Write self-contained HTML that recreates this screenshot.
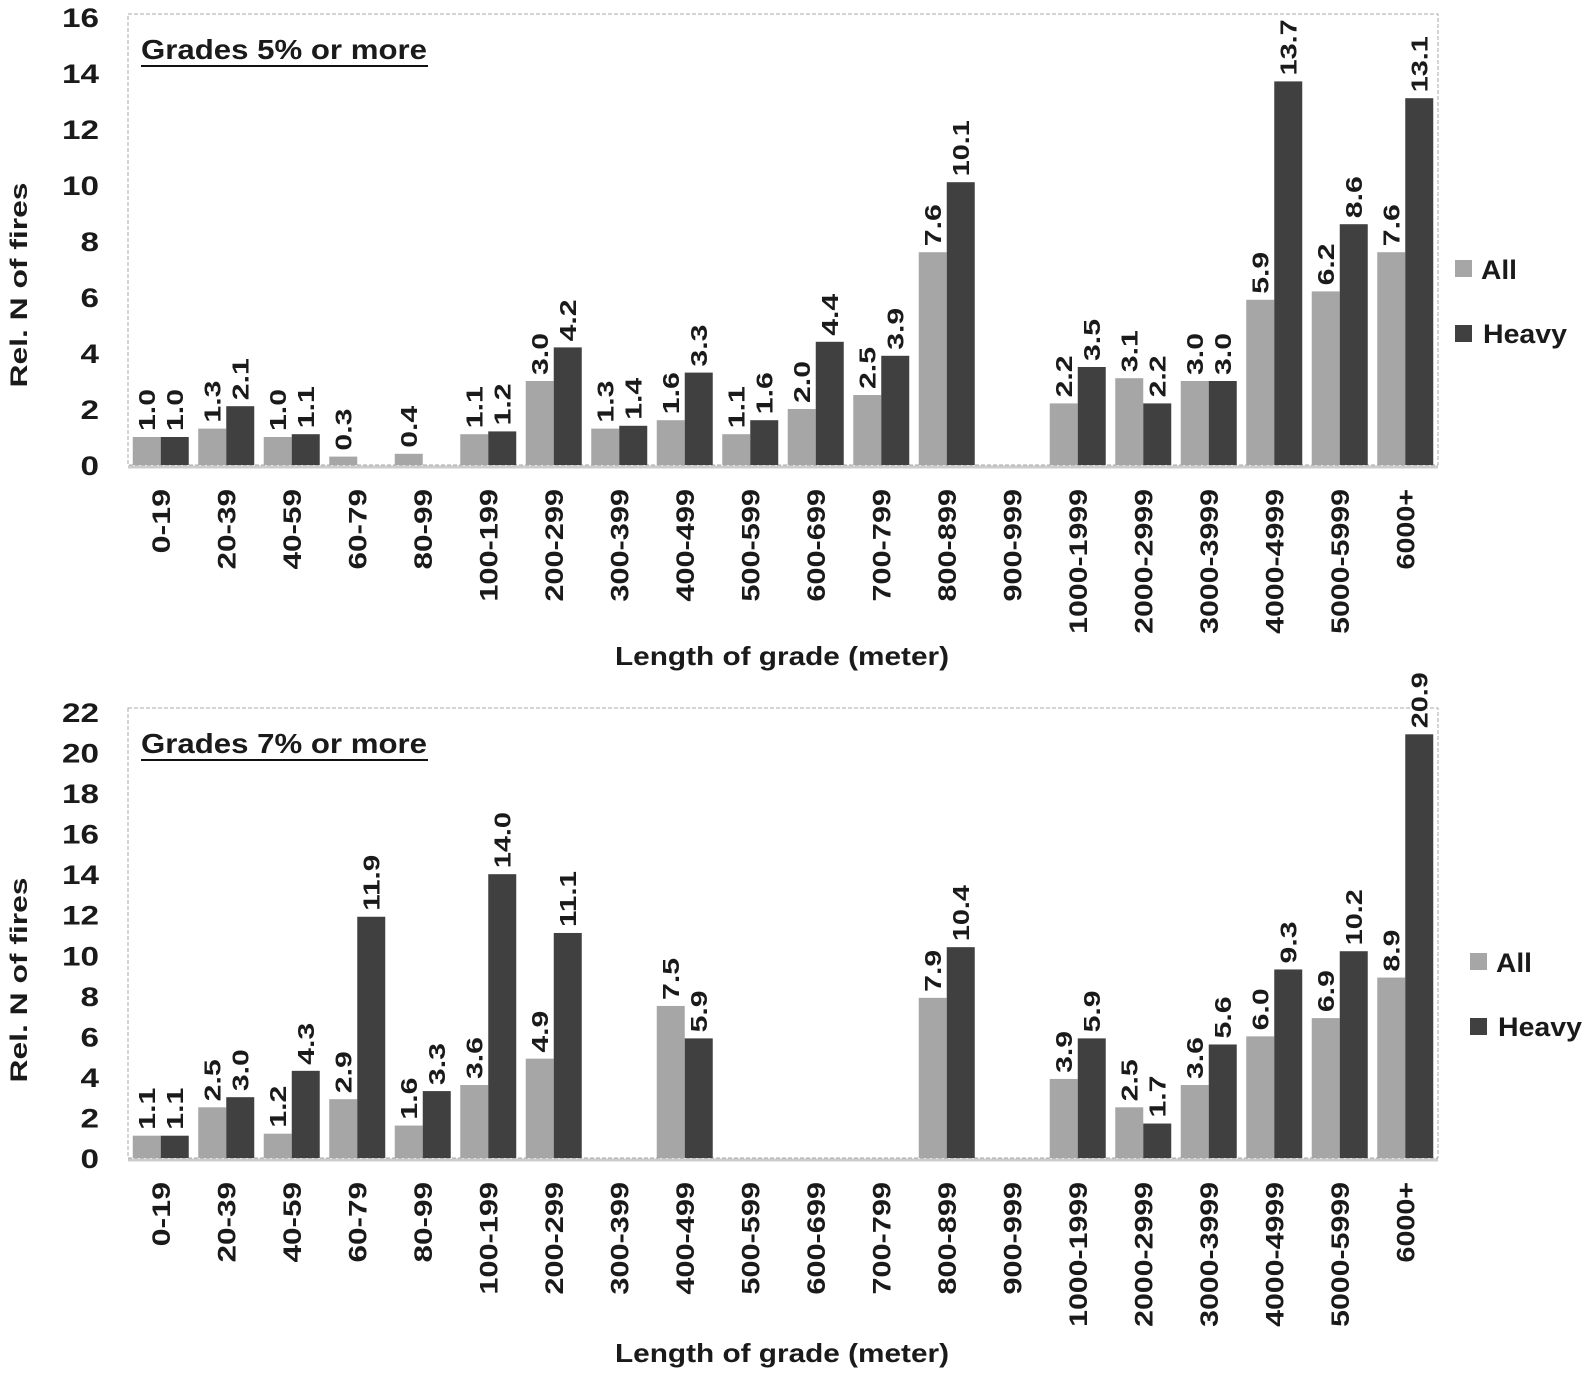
<!DOCTYPE html>
<html><head><meta charset="utf-8"><style>
body{margin:0;background:#fff;}
svg text{font-family:"Liberation Sans",sans-serif;font-weight:bold;fill:#1a1a1a;}
</style></head><body>
<svg id="c" width="1588" height="1369" xmlns="http://www.w3.org/2000/svg"></svg>
<script>
const categories=["0-19","20-39","40-59","60-79","80-99","100-199","200-299","300-399","400-499","500-599","600-699","700-799","800-899","900-999","1000-1999","2000-2999","3000-3999","4000-4999","5000-5999","6000+"];
const allTop=[1.0,1.3,1.0,0.3,0.4,1.1,3.0,1.3,1.6,1.1,2.0,2.5,7.6,null,2.2,3.1,3.0,5.9,6.2,7.6];
const heavyTop=[1.0,2.1,1.1,null,null,1.2,4.2,1.4,3.3,1.6,4.4,3.9,10.1,null,3.5,2.2,3.0,13.7,8.6,13.1];
const allBot=[1.1,2.5,1.2,2.9,1.6,3.6,4.9,null,7.5,null,null,null,7.9,null,3.9,2.5,3.6,6.0,6.9,8.9];
const heavyBot=[1.1,3.0,4.3,11.9,3.3,14.0,11.1,null,5.9,null,null,null,10.4,null,5.9,1.7,5.6,9.3,10.2,20.9];
const ticksTop=[0,2,4,6,8,10,12,14,16];
const ticksBot=[0,2,4,6,8,10,12,14,16,18,20,22];
const NS="http://www.w3.org/2000/svg";
const svg=document.getElementById('c');
function mk(t,a,txt,len){const e=document.createElementNS(NS,t);for(const k in a)e.setAttribute(k,a[k]);if(txt!==undefined){e.textContent=txt;}if(len){e.setAttribute('textLength',len);e.setAttribute('lengthAdjust','spacingAndGlyphs');}svg.appendChild(e);return e;}
function chart(o){
  const L=128,R=1438,n=categories.length,band=(R-L)/n;
  const y=v=>o.y0-(v/o.max)*(o.y0-o.yTop);
  const x=i=>L+band*(i+0.5);
  let e=mk('rect',{x:L,y:o.border,width:R-L,height:o.y0-o.border,fill:'none',stroke:'#aaa','stroke-dasharray':'4,2','stroke-width':1});
  
  e=mk('line',{x1:L,x2:R,y1:o.y0+2,y2:o.y0+2,stroke:'#ccc','stroke-width':3});
  
  o.ticks.forEach(t=>{const s=String(t);e=mk('text',{x:99,y:y(t)+10,'text-anchor':'end','font-size':27},s,18.5*s.length);
    });
  categories.forEach((c,i)=>{
    const cx=x(i);
    e=mk('text',{transform:`translate(${cx+9},${o.y0+24}) rotate(-90)`,'text-anchor':'end','font-size':25},c,16.1*c.length);
    
    [[o.a,'#a6a6a6',cx-28,'all'],[o.h,'#404040',cx,'heavy']].forEach(([arr,col,bx,s])=>{
      const v=arr[i];if(v===null)return;
      e=mk('rect',{x:bx,y:y(v),width:28,height:o.y0-y(v),fill:col});
      
      const t=v.toFixed(1);
      e=mk('text',{transform:`translate(${bx+22},${y(v)-6}) rotate(-90)`,'font-size':23},t,14*t.length);
      
    });
  });
  e=mk('text',{x:141,y:o.border+45,'font-size':28},o.title,286);
  
  e=mk('line',{x1:141,x2:428,y1:o.border+52,y2:o.border+52,stroke:'#111','stroke-width':2});
  
  e=mk('text',{transform:`translate(27,${o.ycMid}) rotate(-90)`,'text-anchor':'middle','font-size':24},'Rel. N of fires',205);
  
  e=mk('text',{x:782,y:o.xtY,'text-anchor':'middle','font-size':26},'Length of grade (meter)',334);
  
  e=mk('rect',{x:o.lx,y:o.ly-19,width:17,height:17,fill:'#a6a6a6'});
  
  e=mk('text',{x:o.lx+26,y:o.ly,'font-size':27},'All',36);
  
  e=mk('rect',{x:o.lx,y:o.ly+46,width:17,height:17,fill:'#404040'});
  
  e=mk('text',{x:o.lx+28,y:o.ly+64,'font-size':27},'Heavy',84);
  
}
chart({p:'top',a:allTop,h:heavyTop,ticks:ticksTop,max:16,y0:465,yTop:17,border:14,title:'Grades 5% or more',ycMid:285,xtY:665,lx:1455,ly:279});
chart({p:'bottom',a:allBot,h:heavyBot,ticks:ticksBot,max:22,y0:1158,yTop:712,border:708,title:'Grades 7% or more',ycMid:980,xtY:1362,lx:1470,ly:972});
</script>
</body></html>
